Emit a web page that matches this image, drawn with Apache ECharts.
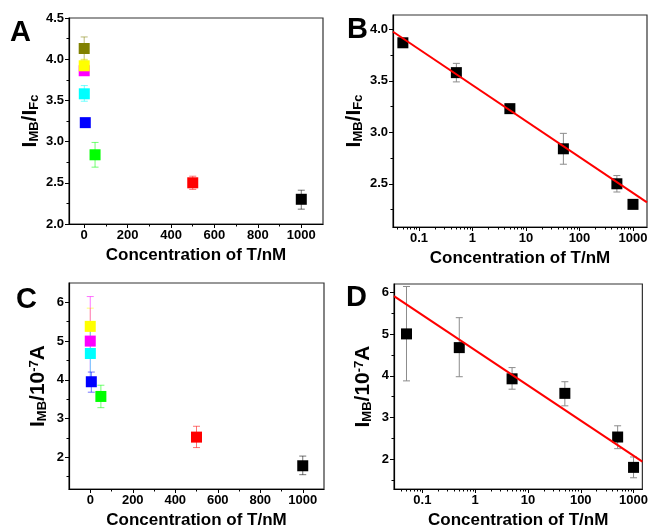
<!DOCTYPE html>
<html><head><meta charset="utf-8">
<script src="https://cdn.jsdelivr.net/npm/echarts@6/dist/echarts.min.js"></script>
<style>html,body{margin:0;padding:0;background:#fff}#c{width:651px;height:530px}</style>
</head><body><div id="c"></div>
<script>
// ---------- data ----------
// Panel A (linear x): concentration (nM), I_MB/I_Fc, error low, error high, colour
const aX    = [0,    0,    0.05, 0.5,  5,    50,   500,  1000];
const aY    = [4.13, 3.86, 3.92, 3.58, 3.23, 2.84, 2.50, 2.30];
const aLo   = [3.99, 3.82, 3.84, 3.49, 3.21, 2.69, 2.42, 2.18];
const aHi   = [4.27, 3.90, 4.00, 3.68, 3.26, 2.99, 2.58, 2.41];
const aCol  = ['#808000','#ff00ff','#ffff00','#00ffff','#0000ff','#00ff00','#ff0000','#000000'];
// Panel B (log x)
const bX    = [0.05, 0.5,  5,    50,   500,  1000];
const bY    = [3.87, 3.58, 3.23, 2.84, 2.50, 2.30];
const bLo   = [3.84, 3.49, 3.21, 2.69, 2.42, 2.28];
const bHi   = [3.90, 3.67, 3.26, 2.99, 2.58, 2.32];
const bFitX = [0.0327, 1828];
const bFitY = [3.977, 2.32];
// Panel C (linear x): I_MB / 1e-7 A
const cX    = [0,    0.05, 0.5,  5,    50,   500,  1000];
const cY    = [5.38, 5.00, 4.68, 3.95, 3.57, 2.52, 1.78];
const cLo   = [4.90, 3.88, 3.98, 3.68, 3.28, 2.25, 1.55];
const cHi   = [5.85, 6.15, 5.40, 4.20, 3.86, 2.80, 2.03];
const cCol  = ['#ffff00','#ff00ff','#00ffff','#0000ff','#00ff00','#ff0000','#000000'];
// Panel D (log x)
const dX    = [0.05, 0.5,  5,    50,   500,  1000];
const dY    = [5.01, 4.68, 3.93, 3.58, 2.53, 1.80];
const dLo   = [3.88, 3.98, 3.68, 3.28, 2.25, 1.55];
const dHi   = [6.15, 5.40, 4.20, 3.86, 2.80, 2.05];
const dFitX = [0.029, 1470];
const dFitY = [5.92, 1.94];
// tick labels
const linMajor = [0, 200, 400, 600, 800, 1000];
const linMinor = [100, 300, 500, 700, 900];
const logMajor = [0.1, 1, 10, 100, 1000];
const logMinor = [0.04,0.05,0.06,0.07,0.08,0.09,0.2,0.3,0.4,0.5,0.6,0.7,0.8,0.9,2,3,4,5,6,7,8,9,20,30,40,50,60,70,80,90,200,300,400,500,600,700,800,900];
const aYMajor = [2.0, 2.5, 3.0, 3.5, 4.0, 4.5];
const aYMinor = [2.25, 2.75, 3.25, 3.75, 4.25];
const bYMajor = [2.5, 3.0, 3.5, 4.0];
const bYMinor = [2.25, 2.75, 3.25, 3.75];
const cdYMajor = [2, 3, 4, 5, 6];
const cdYMinor = [1.5, 2.5, 3.5, 4.5, 5.5];

// ---------- styling helpers ----------
const FF = '"Liberation Sans", Arial, sans-serif';
const grids = [
  {left: 69,  top: 18,  width: 254, height: 206},
  {left: 393, top: 15,  width: 254, height: 212},
  {left: 69,  top: 283, width: 255, height: 208},
  {left: 394, top: 284, width: 255, height: 206}
].map(g => Object.assign(g, {show: true, borderColor: '#333', borderWidth: 1.2, backgroundColor: 'transparent', containLabel: false}));

const xAxes = [], yAxes = [];
function addAxis(list, dim, gi, type, min, max, majors, minors, fmt, name, nameGap, nameStyle) {
  const pos = dim === 'x' ? 'bottom' : 'left';
  list.push({
    type, gridIndex: gi, min, max, position: pos,
    axisLine: {show: true, onZero: false, lineStyle: {color: '#000', width: 1.2}},
    axisTick: {show: true, customValues: majors, length: 4, lineStyle: {color: '#000', width: 1}},
    axisLabel: {show: true, customValues: majors, formatter: fmt, color: '#000', fontSize: 13, fontWeight: 'bold', fontFamily: FF, margin: 5},
    splitLine: {show: false}, minorTick: {show: false},
    name, nameLocation: 'middle', nameGap, nameTextStyle: nameStyle
  });
  const mi = list.length - 1;
  list.push({
    type, gridIndex: gi, min, max, position: pos,
    axisLine: {show: false, onZero: false},
    axisTick: {show: true, customValues: minors, length: 2.5, lineStyle: {color: '#000', width: 1}},
    axisLabel: {show: false}, splitLine: {show: false}
  });
  return mi;
}
const xName = {fontSize: 17, fontWeight: 'bold', fontFamily: FF, color: '#000'};
const ratioName = {
  color: '#000', fontFamily: FF,
  rich: {
    m: {fontSize: 21, fontWeight: 'bold', fontFamily: FF, lineHeight: 21, verticalAlign: 'top', color: '#000'},
    s: {fontSize: 13, fontWeight: 'bold', fontFamily: FF, lineHeight: 13, verticalAlign: 'bottom', padding: [16, 0, 0, 0], color: '#000'}
  }
};
const currName = {
  color: '#000', fontFamily: FF,
  rich: {
    m: {fontSize: 21, fontWeight: 'bold', fontFamily: FF, lineHeight: 21, verticalAlign: 'top', color: '#000'},
    s: {fontSize: 13, fontWeight: 'bold', fontFamily: FF, lineHeight: 13, verticalAlign: 'bottom', padding: [16, 0, 0, 0], color: '#000'},
    p: {fontSize: 13, fontWeight: 'bold', fontFamily: FF, lineHeight: 13, verticalAlign: 'top', color: '#000'}
  }
};
const f1 = v => Number(v).toFixed(1);
const f0 = v => String(v);
const fl = v => String(v);
const xTitle = 'Concentration of T/nM';

const xa = addAxis(xAxes, 'x', 0, 'value', -70, 1100, linMajor, linMinor, f0, xTitle, 23, xName);
const ya = addAxis(yAxes, 'y', 0, 'value', 2.0, 4.5, aYMajor, aYMinor, f1, '{m|I}{s|MB}{m|/I}{s|Fc}', 28, ratioName);
const xb = addAxis(xAxes, 'x', 1, 'log', 0.0327, 1828, logMajor, logMinor, fl, xTitle, 23, xName);
const yb = addAxis(yAxes, 'y', 1, 'value', 2.08, 4.14, bYMajor, bYMinor, f1, '{m|I}{s|MB}{m|/I}{s|Fc}', 28, ratioName);
const xc = addAxis(xAxes, 'x', 2, 'value', -100, 1100, linMajor, linMinor, f0, xTitle, 23, xName);
const yc = addAxis(yAxes, 'y', 2, 'value', 1.18, 6.5, cdYMajor, cdYMinor, f0, '{m|I}{s|MB}{m|/10}{p|-7}{m|A}', 20, currName);
const xd = addAxis(xAxes, 'x', 3, 'log', 0.029, 1470, logMajor, logMinor, fl, xTitle, 23, xName);
const yd = addAxis(yAxes, 'y', 3, 'value', 1.28, 6.21, cdYMajor, cdYMinor, f0, '{m|I}{s|MB}{m|/10}{p|-7}{m|A}', 20, currName);

function errRender(params, api) {
  const x = api.value(0), lo = api.value(1), hi = api.value(2);
  const p1 = api.coord([x, lo]), p2 = api.coord([x, hi]);
  const c = api.visual('color');
  const st = {stroke: c, lineWidth: 1, opacity: params.seriesName === 'errGray' ? 1 : 0.55};
  const w = 3.5;
  return {type: 'group', children: [
    {type: 'line', shape: {x1: p1[0], y1: p1[1], x2: p2[0], y2: p2[1]}, style: st},
    {type: 'line', shape: {x1: p1[0] - w, y1: p1[1], x2: p1[0] + w, y2: p1[1]}, style: st},
    {type: 'line', shape: {x1: p2[0] - w, y1: p2[1], x2: p2[0] + w, y2: p2[1]}, style: st}
  ]};
}
function errSeries(xi, yi, X, Lo, Hi, cols) {
  return {
    type: 'custom', name: cols ? 'errCol' : 'errGray', xAxisIndex: xi, yAxisIndex: yi, z: 1,
    renderItem: errRender, clip: false,
    data: X.map((x, i) => ({value: [x, Lo[i], Hi[i]], itemStyle: {color: cols ? cols[i] : '#8c8c8c'}}))
  };
}
function ptSeries(xi, yi, X, Y, cols) {
  return {
    type: 'scatter', xAxisIndex: xi, yAxisIndex: yi, z: 3, symbol: 'rect', symbolSize: 11,
    data: X.map((x, i) => ({value: [x, Y[i]], itemStyle: {color: cols ? cols[i] : '#000', opacity: 1}}))
  };
}
function fitSeries(xi, yi, FX, FY) {
  return {
    type: 'line', xAxisIndex: xi, yAxisIndex: yi, z: 4, showSymbol: false, symbol: 'none',
    lineStyle: {color: '#ff0000', width: 2}, data: FX.map((x, i) => [x, FY[i]])
  };
}

const letter = (t, x, y) => ({type: 'text', left: x, top: y, style: {text: t, fontSize: 29, fontWeight: 'bold', fontFamily: FF, fill: '#000'}});

const chart = echarts.init(document.getElementById('c'), null, {renderer: 'canvas'});
chart.setOption({
  animation: false,
  backgroundColor: '#fff',
  grid: grids,
  xAxis: xAxes,
  yAxis: yAxes,
  graphic: [letter('A', 10, 18), letter('B', 347, 15), letter('C', 16, 285), letter('D', 346, 283)],
  series: [
    errSeries(xa, ya, aX, aLo, aHi, aCol), ptSeries(xa, ya, aX, aY, aCol),
    errSeries(xb, yb, bX, bLo, bHi, null), ptSeries(xb, yb, bX, bY, null), fitSeries(xb, yb, bFitX, bFitY),
    errSeries(xc, yc, cX, cLo, cHi, cCol), ptSeries(xc, yc, cX, cY, cCol),
    errSeries(xd, yd, dX, dLo, dHi, null), ptSeries(xd, yd, dX, dY, null), fitSeries(xd, yd, dFitX, dFitY)
  ]
});
</script></body></html>
